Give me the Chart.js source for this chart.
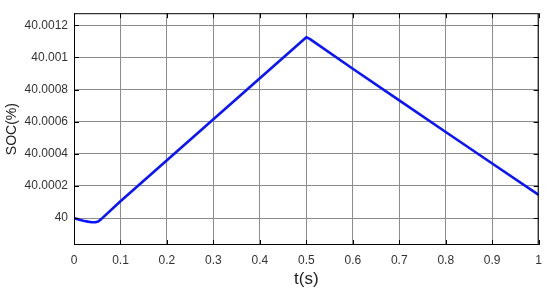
<!DOCTYPE html>
<html>
<head>
<meta charset="utf-8">
<script src="https://cdn.jsdelivr.net/npm/chart.js@4/dist/chart.umd.min.js"></script>
<style>
  html, body { margin: 0; padding: 0; background: #fff; }
  #wrap { width: 550px; height: 294px; }
</style>
</head>
<body>
<div id="wrap"><canvas id="socChart"></canvas></div>
<script>
// time (s) and SOC (%)
const timeS = [0, 0.01, 0.02, 0.03, 0.038, 0.046, 0.052, 0.058, 0.1, 0.2, 0.3, 0.4, 0.5, 0.508, 0.6, 0.7, 0.8, 0.9, 1];
const socPct = [40, 39.999992, 39.999984, 39.999978, 39.999974, 39.999974, 39.999979, 39.999992, 40.000105, 40.000360, 40.000615, 40.000870, 40.001126, 40.001114, 40.000930, 40.000733, 40.000536, 40.000340, 40.000144];
const xTicks = [0, 0.1, 0.2, 0.3, 0.4, 0.5, 0.6, 0.7, 0.8, 0.9, 1];
const yTicks = [40, 40.0002, 40.0004, 40.0006, 40.0008, 40.001, 40.0012];
const yTickLabels = ['40', '40.0002', '40.0004', '40.0006', '40.0008', '40.001', '40.0012'];

// black frame + small inward tick marks, like the original plot
const framePlugin = {
    id: 'frame',
    afterDraw(chart) {
        const { ctx, chartArea: a, scales } = chart;
        ctx.save();
        ctx.strokeStyle = '#000';
        ctx.lineWidth = 1;
        ctx.strokeRect(a.left + 0.5, a.top + 0.5, a.right - a.left - 1, a.bottom - a.top - 1);
        ctx.beginPath();
        xTicks.forEach(v => {
            const px = Math.round(scales.x.getPixelForValue(v)) + 0.5;
            ctx.moveTo(px, a.bottom); ctx.lineTo(px, a.bottom - 5);
            ctx.moveTo(px, a.top); ctx.lineTo(px, a.top + 5);
        });
        yTicks.forEach(v => {
            const py = Math.round(scales.y.getPixelForValue(v)) + 0.5;
            ctx.moveTo(a.left, py); ctx.lineTo(a.left + 5, py);
            ctx.moveTo(a.right, py); ctx.lineTo(a.right - 5, py);
        });
        ctx.stroke();
        ctx.restore();
    }
};

document.addEventListener('DOMContentLoaded', () => {
    const fontFamily = '"Liberation Sans", Arial, sans-serif';
    new Chart(document.getElementById('socChart').getContext('2d'), {
        type: 'line',
        data: {
            datasets: [{
                data: timeS.map((t, i) => ({ x: t, y: socPct[i] })),
                borderColor: '#0a14ff',
                borderWidth: 2.6,
                borderJoinStyle: 'round',
                pointRadius: 0,
                tension: 0,
                fill: false
            }]
        },
        options: {
            responsive: true, maintainAspectRatio: false, animation: false,
            layout: { padding: { top: 10, right: 11, left: 0, bottom: 0 } },
            plugins: { legend: { display: false }, tooltip: { enabled: false } },
            scales: {
                x: {
                    type: 'linear', min: 0, max: 1,
                    afterBuildTicks: s => { s.ticks = xTicks.map(v => ({ value: v })); },
                    afterFit: s => { s.height = 49; },
                    grid: { color: '#8c8c8c', lineWidth: 1, tickLength: 0, drawTicks: false },
                    border: { display: false },
                    ticks: { color: '#333', padding: 8, font: { family: fontFamily, size: 12 }, maxRotation: 0,
                        callback: v => String(v) },
                    title: { display: true, text: 't(s)', color: '#222', padding: { top: 0 }, font: { family: fontFamily, size: 17 } }
                },
                y: {
                    type: 'linear', min: 39.9998325, max: 40.0012755,
                    afterBuildTicks: s => { s.ticks = yTicks.map(v => ({ value: v })); },
                    afterFit: s => { s.width = 74; },
                    grid: { color: '#8c8c8c', lineWidth: 1, tickLength: 0, drawTicks: false },
                    border: { display: false },
                    ticks: { color: '#333', padding: 6, font: { family: fontFamily, size: 12 },
                        callback: v => yTickLabels[yTicks.indexOf(v)] ?? '' },
                    title: { display: true, text: 'SOC(%)', color: '#222', padding: { bottom: 0 }, font: { family: fontFamily, size: 14 } }
                }
            }
        },
        plugins: [framePlugin]
    });
});
</script>
</body>
</html>
